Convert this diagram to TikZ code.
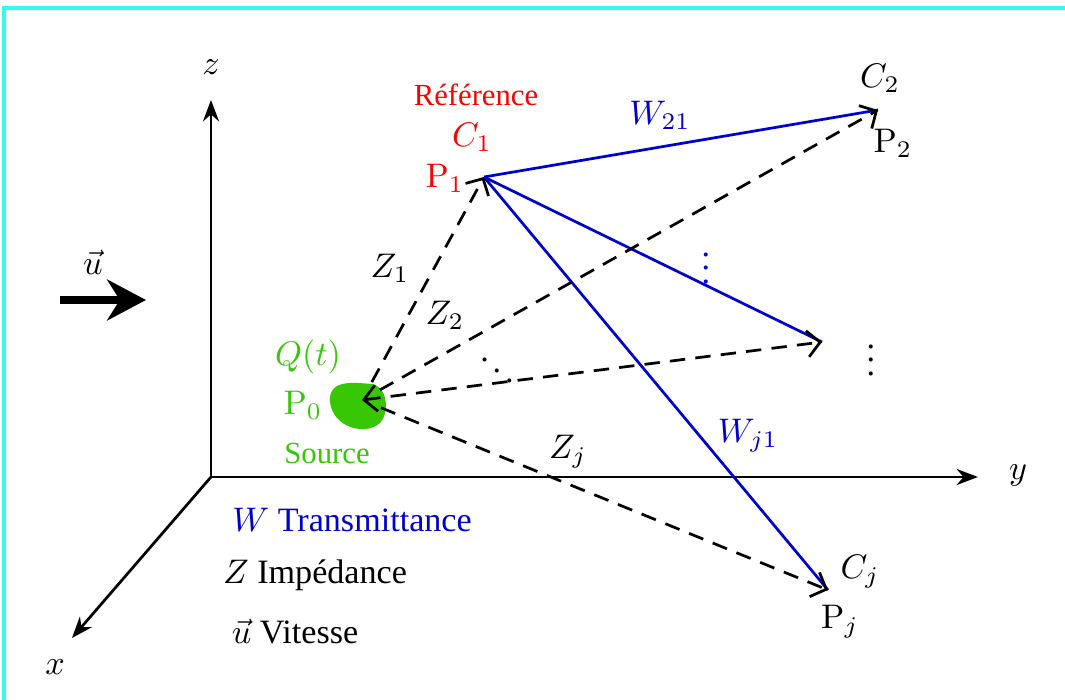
\documentclass[tikz,border=0pt]{standalone}
\usepackage{amsmath}
\usepackage[no-math]{fontspec}
\setmainfont{Liberation Serif}
\usepackage{tikz}
\usetikzlibrary{arrows.meta, positioning, calc}
\definecolor{SourceGreen}{rgb}{0.22, 0.78, 0.02}
\definecolor{TransBlue}{rgb}{0.0, 0.0, 0.8}
\definecolor{FrameCyan}{rgb}{0.2, 0.98, 0.95}

\begin{document}
\begin{tikzpicture}[
    x=1.03cm, y=1.03cm,
    axis/.style={-{Stealth[length=2.2mm]}, thick, black},
    imp/.style={-{Straight Barb[length=1.3mm, width=2.7mm]}, thick, dash pattern=on 4.5pt off 3pt},
    trans/.style={thick, TransBlue},
    lbl/.style={inner sep=1pt},
]
\useasboundingbox (0,0) rectangle (10.65,7);
\draw[FrameCyan, line width=1.2pt] (0.04,-0.05) rectangle (10.70,6.92);

% ============ axes ============
\coordinate (O) at (2.11,2.23);
\coordinate (zend) at (2.11,6.00);
\coordinate (yend) at (9.78,2.23);
\coordinate (xend) at (0.72,0.62);
\draw[axis] (O) -- (zend);
\draw[axis] (O) -- (yend);
\draw[axis] (O) -- (xend);
\node[lbl] (zlab) at (2.11,6.33) {$z$};
\node[lbl] (ylab) at (10.18,2.25) {$y$};
\node[lbl] (xlab) at (0.55,0.33) {$x$};

% ============ vitesse ============
\coordinate (ustart) at (0.60,4.00);
\coordinate (uend) at (1.46,4.00);
\draw[-{Stealth[length=4mm, width=4.2mm]}, line width=2.6pt] (ustart) -- (uend);
\node[lbl] (ulab) at (0.93,4.38) {$\vec{u}$};

% ============ points ============
\coordinate (P0) at (3.62,3.00);
\coordinate (P1) at (4.84,5.23);
\coordinate (P2) at (8.78,5.90);
\coordinate (P3) at (8.22,3.58);
\coordinate (Pj) at (8.28,1.10);

% source
\fill[SourceGreen] (3.30,2.98) .. controls (3.28,3.22) and (3.56,3.17) .. (3.72,3.16)
    .. controls (3.90,3.12) and (3.88,2.84) .. (3.80,2.77)
    .. controls (3.66,2.64) and (3.33,2.72) .. (3.30,2.98);

% transmittances
\draw[trans] (P1) -- (P2);
\draw[trans] (P1) -- (P3);
\draw[trans] (P1) -- (Pj);

% impedances
\draw[imp, shorten <=6pt] (P0) -- (P1);
\draw[imp, shorten <=6pt] (P0) -- (P2);
\draw[imp, {Straight Barb[length=1.3mm, width=2.7mm]}-{Straight Barb[length=1.3mm, width=2.7mm]}] (P0) -- (P3);
\draw[imp, shorten <=6pt] (P0) -- (Pj);

% ============ labels ============
\node[lbl, red, font=\small] (ref) at (4.76,6.05) {Référence};
\node[lbl, red] (C1) at (4.72,5.63) {$C_1$};
\node[lbl, red] (P1lab) at (4.45,5.22) {$\mathrm{P}_1$};
\node[lbl] (C2) at (8.80,6.22) {$C_2$};
\node[lbl] (P2lab) at (8.93,5.57) {$\mathrm{P}_2$};
\node[lbl] (P3dots) at (8.71,3.50) {$\vdots$};
\node[lbl] (Cj) at (8.60,1.28) {$C_j$};
\node[lbl] (Pjlab) at (8.40,0.78) {$\mathrm{P}_j$};

\node[lbl, TransBlue] (W21) at (6.60,5.85) {$W_{21}$};
\node[lbl, TransBlue] (Wj1) at (7.48,2.64) {$W_{j1}$};
\node[lbl, TransBlue] (Wdots) at (7.06,4.42) {$\vdots$};

\node[lbl] (Z1) at (3.90,4.32) {$Z_1$};
\node[lbl] (Z2) at (4.45,3.85) {$Z_2$};
\node[lbl] (Zj) at (5.68,2.48) {$Z_j$};
\node[lbl] (Zdots) at (4.97,3.40) {$\ddots$};

\node[lbl, SourceGreen] (Q) at (3.08,3.43) {$Q(t)$};
\node[lbl, SourceGreen] (P0lab) at (3.03,2.95) {$\mathrm{P}_0$};
\node[lbl, SourceGreen, font=\small] (src) at (3.27,2.47) {Source};

% ============ legende ============
\node[lbl, TransBlue] (legW) at (3.52,1.80) {$W$ Transmittance};
\node[lbl] (legZ) at (3.15,1.25) {$Z$ Impédance};
\node[lbl] (legu) at (2.95,0.68) {$\vec{u}$ Vitesse};

\end{tikzpicture}
\end{document}
